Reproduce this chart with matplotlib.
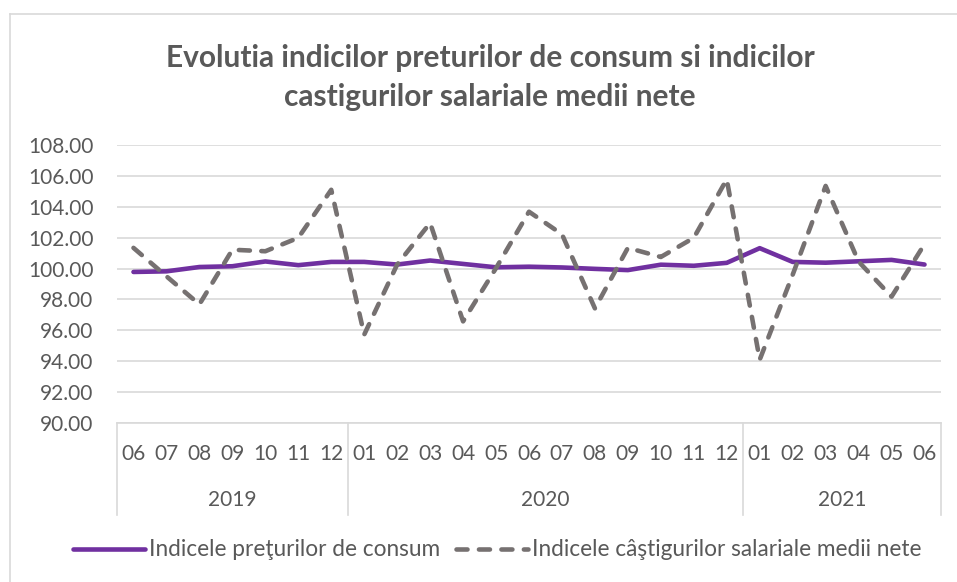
import matplotlib
matplotlib.use("Agg")
import matplotlib.pyplot as plt
import matplotlib.transforms as mtransforms
from matplotlib.lines import Line2D

# --- Data ---
MONTHS = ["06", "07", "08", "09", "10", "11", "12",
          "01", "02", "03", "04", "05", "06", "07", "08", "09", "10", "11", "12",
          "01", "02", "03", "04", "05", "06"]
YEARS = ["2019", "2020", "2021"]
YEAR_COUNTS = [7, 12, 6]

CPI = [99.78, 99.82, 100.10, 100.15, 100.46, 100.22, 100.43,
       100.43, 100.26, 100.52, 100.30, 100.08, 100.12, 100.07, 99.98, 99.90,
       100.25, 100.18, 100.37, 101.32, 100.43, 100.38, 100.47, 100.56, 100.26]
WAGES = [101.34, 99.50, 97.68, 101.22, 101.12, 101.99, 105.10,
         95.72, 100.26, 102.95, 96.58, 100.03, 103.68, 102.22, 97.42, 101.34,
         100.75, 101.99, 105.78, 94.10, 99.60, 105.35, 100.45, 98.18, 101.58]

TITLE = "Evolutia indicilor preturilor de consum si indicilor\ncastigurilor salariale medii nete"
LABEL_CPI = "Indicele preţurilor de consum"
LABEL_WAGES = "Indicele câştigurilor salariale medii nete"

# --- Style ---
plt.rcParams["font.family"] = ["Lato", "DejaVu Sans"]
TEXT_COLOR = "#595959"
GRID_COLOR = "#d9d9d9"
PURPLE = "#7030a0"
GRAY = "#767171"

W, H = 957, 582
fig = plt.figure(figsize=(W / 100, H / 100), dpi=100)

# chart area border (left + top visible in the reference)
fig.add_artist(Line2D([10 / W, 10 / W], [0, 1 - 14 / H], color=GRID_COLOR, lw=1.2))
fig.add_artist(Line2D([10 / W, 1], [1 - 14 / H, 1 - 14 / H], color=GRID_COLOR, lw=1.2))

left, right, top, bottom = 117, 941, 145, 423
ax = fig.add_axes([left / W, 1 - bottom / H, (right - left) / W, (bottom - top) / H])

x = list(range(len(MONTHS)))
ax.plot(x, CPI, color=PURPLE, lw=3.3, solid_capstyle="round", solid_joinstyle="round",
        label=LABEL_CPI, zorder=3)
ax.plot(x, WAGES, color=GRAY, lw=3.3, dashes=(2.4, 2.5), dash_capstyle="round",
        dash_joinstyle="round", label=LABEL_WAGES, zorder=3)

ax.set_xlim(-0.5, len(MONTHS) - 0.5)
ax.set_ylim(90, 108)
ax.set_yticks(range(90, 109, 2))
ax.yaxis.set_major_formatter(matplotlib.ticker.FormatStrFormatter("%.2f"))
ax.grid(axis="y", color=GRID_COLOR, lw=1.2)
ax.set_axisbelow(True)
for s in ["left", "right", "top"]:
    ax.spines[s].set_visible(False)
ax.spines["bottom"].set_color(GRID_COLOR)
ax.spines["bottom"].set_linewidth(1.2)

ax.set_xticks(x)
ax.set_xticklabels(MONTHS)
ax.tick_params(axis="x", length=0, pad=15, labelsize=15, labelcolor=TEXT_COLOR)
ax.tick_params(axis="y", length=0, pad=17, labelsize=15, labelcolor=TEXT_COLOR)

# multi-level category axis: year group separators and labels
trans = mtransforms.blended_transform_factory(ax.transData, ax.transAxes)
depth = -(515 - bottom) / (bottom - top)
year_y = -(500 - bottom) / (bottom - top)
start = 0
bounds = [-0.5]
for year, n in zip(YEARS, YEAR_COUNTS):
    ax.text(start + (n - 1) / 2, year_y, year, transform=trans, ha="center", va="center",
            fontsize=15, color=TEXT_COLOR)
    start += n
    bounds.append(start - 0.5)
for b in bounds:
    ax.plot([b, b], [0, depth], transform=trans, color=GRID_COLOR, lw=1.2, clip_on=False)

fig.text(490 / W, 1 - 77.5 / H, TITLE, ha="center", va="center", ma="center",
         fontsize=21.5, fontweight="bold", color=TEXT_COLOR, linespacing=1.45)

fig.legend(loc="center", bbox_to_anchor=(497 / W, 1 - 550 / H), ncol=2, frameon=False,
           fontsize=16.3, labelcolor=TEXT_COLOR, handlelength=3.2, handletextpad=0.15,
           columnspacing=0.7)

fig.savefig("out.png", dpi=100, facecolor="white")
